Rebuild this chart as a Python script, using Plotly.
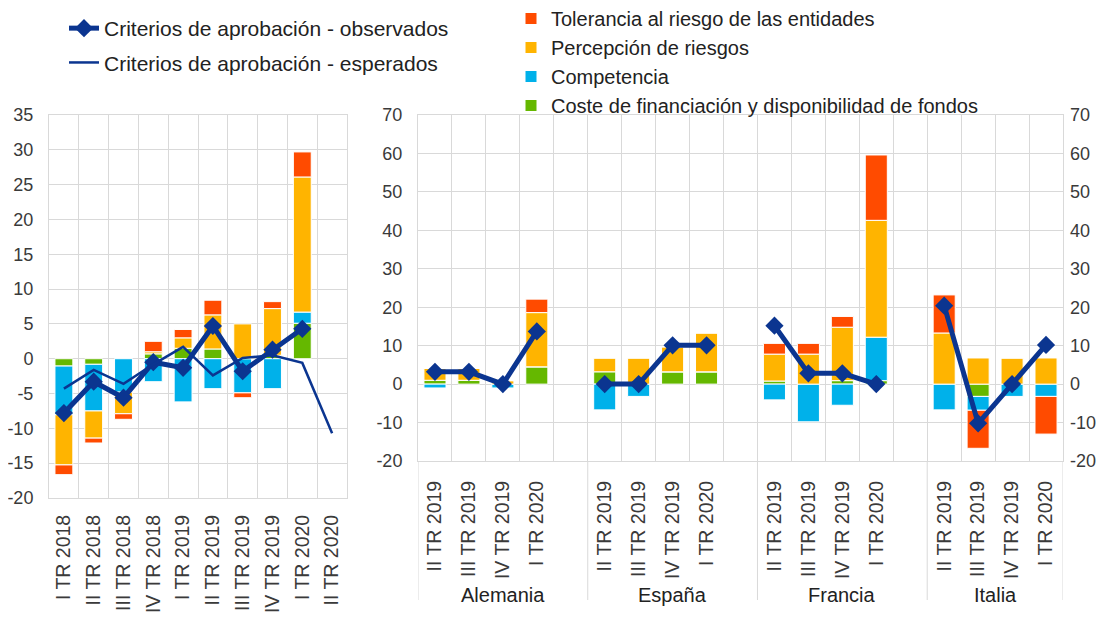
import plotly.graph_objects as go

# ---------------- data ----------------
left_cats = ["I TR 2018", "II TR 2018", "III TR 2018", "IV TR 2018", "I TR 2019",
             "II TR 2019", "III TR 2019", "IV TR 2019", "I TR 2020", "II TR 2020"]
left_green = [-1.05, -0.8, 0.0, 0.7, 1.5, 1.4, 0.0, 0.5, 5.1, None]
left_blue = [-7.0, -6.7, -4.8, -3.3, -6.2, -4.3, -4.9, -4.3, 1.6, None]
left_yellow = [-7.2, -3.9, -3.1, 0.3, 1.5, 4.9, 5.0, 6.7, 19.4, None]
left_red = [-1.4, -0.7, -0.8, 1.5, 1.2, 2.1, -0.7, 1.0, 3.6, None]
left_observed = [-7.8, -3.3, -5.6, -0.5, -1.3, 4.7, -1.8, 1.3, 4.3, None]
left_expected = [-4.3, -1.6, -3.6, -0.8, 1.7, -2.4, 0.1, 0.5, -0.6, -10.7]
left_yticks = [-20, -15, -10, -5, 0, 5, 10, 15, 20, 25, 30, 35]

countries = ["Alemania", "España", "Francia", "Italia"]
quarters = ["II TR 2019", "III TR 2019", "IV TR 2019", "I TR 2020"]
# order: Alemania q1..q4, España q1..q4, Francia q1..q4, Italia q1..q4
right_green = [1.0, 1.0, 0.0, 4.5,   3.2, 0.0, 3.2, 3.2,   0.8, 0.0, 0.9, 0.9,   0.0, -3.2, 0.0, 0.0]
right_blue = [-1.0, 0.0, -1.0, 0.0,  -6.7, -3.2, 0.0, 0.0,  -4.1, -9.8, -5.5, 11.3,  -6.7, -3.6, -3.2, -3.2]
right_yellow = [3.1, 3.1, 0.9, 14.1,  3.6, 6.8, 6.5, 10.1,  7.0, 7.8, 13.9, 30.4,  13.3, 6.8, 6.8, 6.8]
right_red = [0.0, 0.0, 0.0, 3.5,   0.0, 0.0, 0.0, 0.0,   2.8, 2.8, 2.8, 17.0,   9.9, -9.9, 0.0, -9.8]
right_observed = [3.2, 3.2, 0.0, 13.7,  0.0, 0.0, 10.1, 10.1,  15.2, 2.8, 2.8, 0.0,  20.4, -10.2, 0.0, 10.2]
right_yticks = [-20, -10, 0, 10, 20, 30, 40, 50, 60, 70]

series_names = {
    "red": "Tolerancia al riesgo de las entidades",
    "yellow": "Percepción de riesgos",
    "blue": "Competencia",
    "green": "Coste de financiación y disponibilidad de fondos",
}
obs_name = "Criterios de aprobación - observados"
exp_name = "Criterios de aprobación - esperados"

# ---------------- style ----------------
COL = {"red": "#FF4B00", "yellow": "#FFB400", "blue": "#00B1EA", "green": "#65B800"}
NAVY = "#0B3590"
GRID = "#d9d9d9"
TXT = "#3a3a3a"
FONT = "Liberation Sans"
OFF = 8  # default page body margin
W, H = 1105 - OFF, 617 - OFF

# x positions
left_x = list(range(len(left_cats)))
right_x = []
right_ticktext = []
for g, c in enumerate(countries):
    for q, qq in enumerate(quarters):
        right_x.append(g * 5 + q)
        right_ticktext.append(qq)

# observed right line broken between countries
obs_rx, obs_ry = [], []
for g in range(len(countries)):
    for q in range(len(quarters)):
        obs_rx.append(right_x[g * 4 + q])
        obs_ry.append(right_observed[g * 4 + q])
    obs_rx.append(g * 5 + 4)
    obs_ry.append(None)

fig = go.Figure()

order = ["green", "blue", "yellow", "red"]
left_vals = {"green": left_green, "blue": left_blue, "yellow": left_yellow, "red": left_red}
right_vals = {"green": right_green, "blue": right_blue, "yellow": right_yellow, "red": right_red}
rank = {"red": 1, "yellow": 2, "blue": 3, "green": 4}

for k in order:
    fig.add_trace(go.Bar(x=left_x, y=left_vals[k], marker=dict(color=COL[k], line=dict(color="white", width=1)),
                         width=0.6, xaxis="x", yaxis="y", showlegend=False, name=series_names[k]))
for k in order:
    fig.add_trace(go.Bar(x=right_x, y=right_vals[k], marker=dict(color=COL[k], line=dict(color="white", width=1)),
                         width=0.65, xaxis="x2", yaxis="y2", name=series_names[k],
                         legend="legend2", legendrank=rank[k]))

fig.add_trace(go.Scatter(x=left_x, y=left_observed, mode="lines+markers", name=obs_name,
                         line=dict(color=NAVY, width=5), marker=dict(symbol="diamond", size=14, color=NAVY),
                         xaxis="x", yaxis="y", legend="legend", legendgroup="obs"))
fig.add_trace(go.Scatter(x=left_x, y=left_expected, mode="lines", name=exp_name,
                         line=dict(color=NAVY, width=2.5),
                         xaxis="x", yaxis="y", legend="legend", legendgroup="exp"))
fig.add_trace(go.Scatter(x=obs_rx, y=obs_ry, mode="lines+markers", name=obs_name, showlegend=False,
                         connectgaps=False,
                         line=dict(color=NAVY, width=5), marker=dict(symbol="diamond", size=14, color=NAVY),
                         xaxis="x2", yaxis="y2"))
# dummy for right-side axis
fig.add_trace(go.Scatter(x=[None], y=[None], xaxis="x2", yaxis="y3", showlegend=False, hoverinfo="skip"))


def px_x(p):  # screen pixel -> paper fraction
    return (p - OFF) / W


def px_y(p):
    return (H - (p - OFF)) / H


lx0, lx1 = 49, 347
rx0, rx1 = 418, 1063
ly0, ly1 = 498, 115
ry0, ry1 = 461, 115

minor_left = [i - 0.5 for i in range(len(left_cats) + 1)]
minor_right = [i - 0.5 for i in range(20)]

xcommon = dict(tickangle=-90, tickfont=dict(size=19.5, color=TXT, family=FONT), showgrid=False,
               zeroline=False, showline=True, mirror=True, linecolor=GRID, linewidth=1,
               ticks="", automargin=False)
ycommon = dict(tickfont=dict(size=18, color=TXT, family=FONT), gridcolor=GRID, gridwidth=1,
               zeroline=False, showline=True, mirror=True, linecolor=GRID, linewidth=1, ticks="",
               ticklabelstandoff=11, automargin=False, tickmode="array")

fig.update_layout(
    width=W, height=H, autosize=False,
    margin=dict(l=0, r=0, t=0, b=0, autoexpand=False),
    paper_bgcolor="white", plot_bgcolor="white",
    font=dict(family=FONT, color=TXT),
    barmode="relative",
    xaxis=dict(domain=[px_x(lx0), px_x(lx1)], range=[-0.5, len(left_cats) - 0.5],
               tickmode="array", tickvals=left_x, ticktext=left_cats, anchor="y", ticklabelstandoff=8,
               minor=dict(tickmode="array", tickvals=minor_left, showgrid=True, gridcolor=GRID, gridwidth=1, ticks=""),
               **xcommon),
    yaxis=dict(domain=[px_y(ly0), px_y(ly1)], range=[-20, 35], anchor="x",
               tickvals=left_yticks, ticktext=[str(v) for v in left_yticks], **ycommon),
    xaxis2=dict(domain=[px_x(rx0), px_x(rx1)], range=[-0.5, 18.5],
                tickmode="array", tickvals=right_x, ticktext=right_ticktext, anchor="y2", ticklabelstandoff=11,
                minor=dict(tickmode="array", tickvals=minor_right, showgrid=True, gridcolor=GRID, gridwidth=1, ticks=""),
                **xcommon),
    yaxis2=dict(domain=[px_y(ry0), px_y(ry1)], range=[-20, 70], anchor="x2",
                tickvals=right_yticks, ticktext=[str(v) for v in right_yticks], **ycommon),
    yaxis3=dict(range=[-20, 70], tickmode="array", tickvals=right_yticks,
                ticktext=[str(v) for v in right_yticks], overlaying="y2", side="right", anchor="x2",
                showgrid=False, zeroline=False, tickfont=dict(size=18, color=TXT, family=FONT),
                ticks="", ticklabelstandoff=6, automargin=False),
    legend=dict(x=px_x(64), y=px_y(8), xanchor="left", yanchor="top", bgcolor="rgba(0,0,0,0)",
                font=dict(size=21, color="#222", family=FONT), tracegroupgap=4, traceorder="grouped"),
    legend2=dict(x=px_x(511), y=px_y(-1), xanchor="left", yanchor="top", bgcolor="rgba(0,0,0,0)",
                 font=dict(size=20, color="#222", family=FONT), traceorder="normal"),
)

# group dividers and labels for the right panel
for b in [-0.5, 4.5, 9.5, 14.5, 18.5]:
    fig.add_shape(type="line", xref="x2", yref="paper", x0=b, x1=b,
                  y0=px_y(ry0), y1=px_y(600), line=dict(color=GRID, width=1))
for g, c in enumerate(countries):
    center = g * 5 + 2 if g < len(countries) - 1 else g * 5 + 1.5
    fig.add_annotation(x=center, y=px_y(595), xref="x2", yref="paper", text=c, showarrow=False,
                       font=dict(size=20, color="#222", family=FONT), yanchor="middle")

fig.write_html("out.html")
